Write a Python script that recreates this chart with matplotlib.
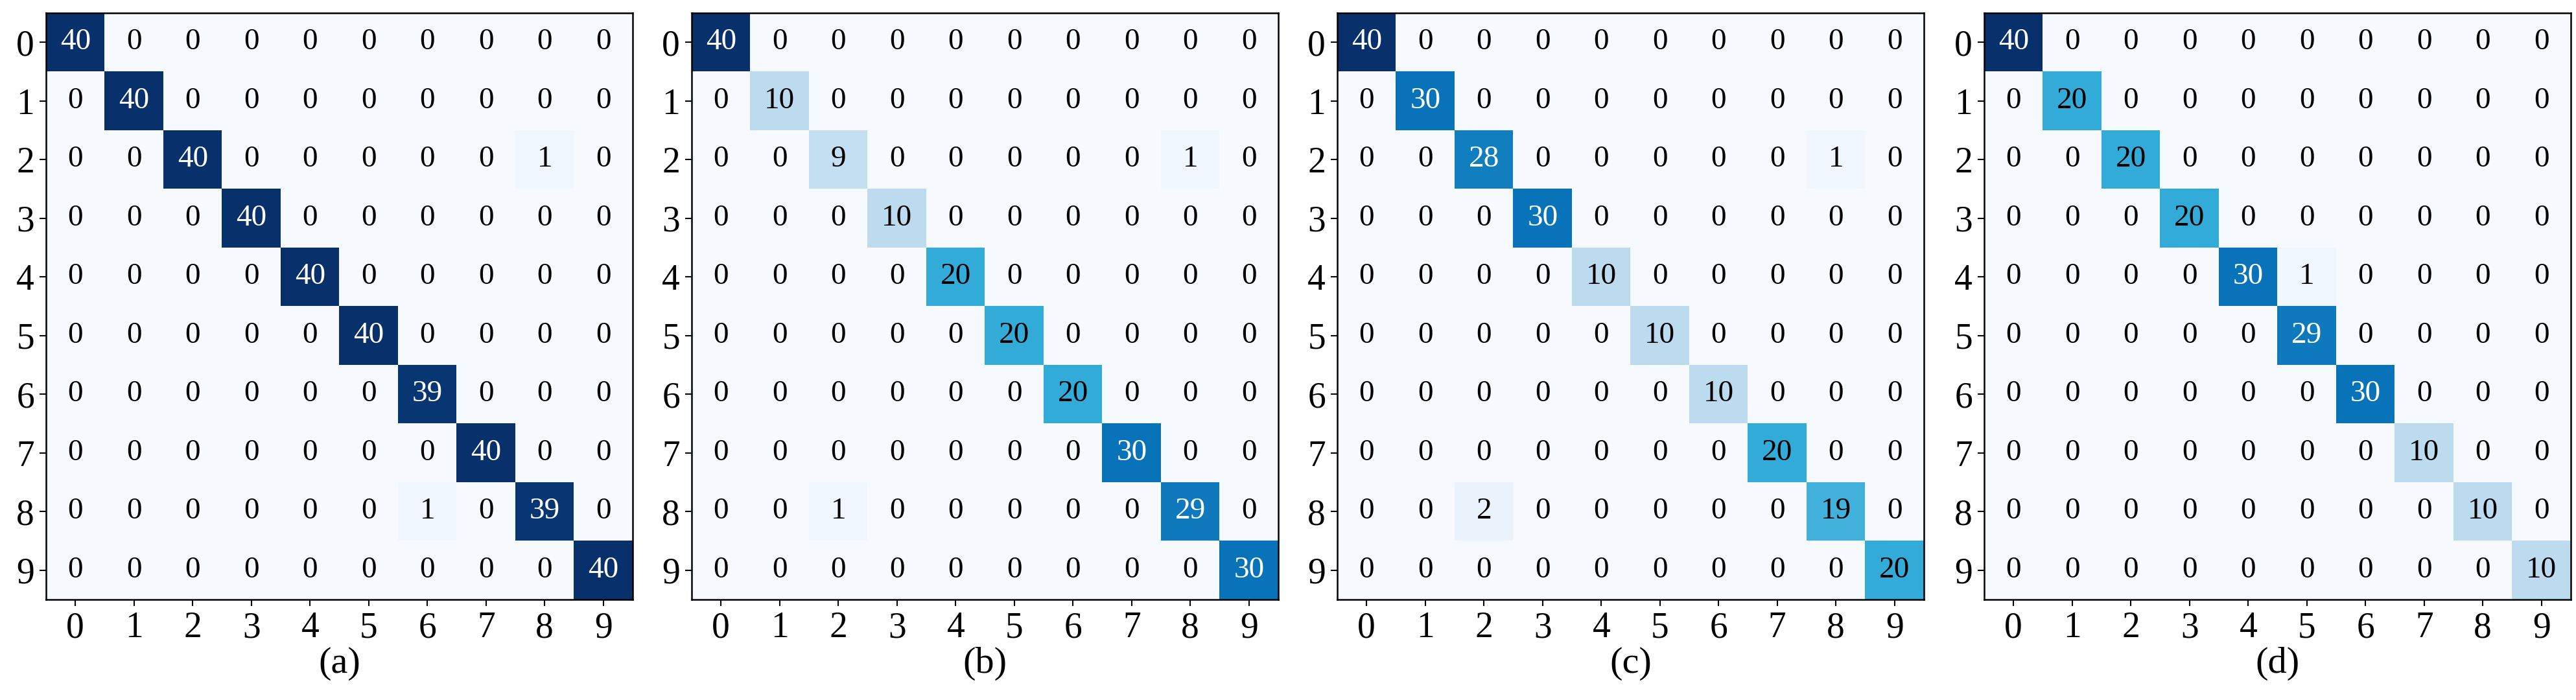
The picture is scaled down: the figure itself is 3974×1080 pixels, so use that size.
import numpy as np
import matplotlib
matplotlib.use("Agg")
import matplotlib.pyplot as plt
from matplotlib.colors import LinearSegmentedColormap

plt.rcParams['font.family'] = ['Liberation Serif', 'DejaVu Serif']

classes = [str(i) for i in range(10)]
captions = ["(a)", "(b)", "(c)", "(d)"]

diag_a = [40, 40, 40, 40, 40, 40, 39, 40, 39, 40]
off_a = [(2, 8, 1), (8, 6, 1)]

diag_b = [40, 10, 9, 10, 20, 20, 20, 30, 29, 30]
off_b = [(2, 8, 1), (8, 2, 1)]

diag_c = [40, 30, 28, 30, 10, 10, 10, 20, 19, 20]
off_c = [(2, 8, 1), (8, 2, 2)]

diag_d = [40, 20, 20, 20, 30, 29, 30, 10, 10, 10]
off_d = [(4, 5, 1)]


def build(diag, off):
    m = np.diag(np.array(diag, dtype=int))
    for r, c, v in off:
        m[r, c] = v
    return m


mats = [build(diag_a, off_a), build(diag_b, off_b),
        build(diag_c, off_c), build(diag_d, off_d)]

cmap = LinearSegmentedColormap.from_list(
    "blues_sat",
    [(0.0, "#f6faff"), (0.05, "#eaf3fc"), (0.25, "#bedcf0"), (0.5, "#33acd9"),
     (0.75, "#0a74bb"), (1.0, "#08306b")])

W, H = 3974, 1080
fig = plt.figure(figsize=(W / 100, H / 100), dpi=100)

lefts = [71, 1067, 2063, 3061]
ax_w = 905 / W
ax_h = 905 / H
bottom = 1 - 925 / H

for k, (m, cap) in enumerate(zip(mats, captions)):
    ax = fig.add_axes([lefts[k] / W, bottom, ax_w, ax_h])
    vmax = m.max()
    ax.imshow(m, cmap=cmap, vmin=0, vmax=vmax, aspect='auto', interpolation='nearest')
    for i in range(m.shape[0]):
        for j in range(m.shape[1]):
            v = m[i, j]
            ax.text(j, i, str(v), ha='center', va='center', fontsize=34,
                    color='white' if v > vmax / 2 else 'black')
    ax.set_xticks(range(10))
    ax.set_yticks(range(10))
    ax.set_xticklabels(classes, fontsize=40)
    ax.set_yticklabels(classes, fontsize=40)
    ax.tick_params(length=7, width=1.5, pad=6)
    for s in ax.spines.values():
        s.set_linewidth(1.8)
    ax.set_xlabel(cap, fontsize=42, labelpad=2)

fig.savefig("out.png", dpi=100)
